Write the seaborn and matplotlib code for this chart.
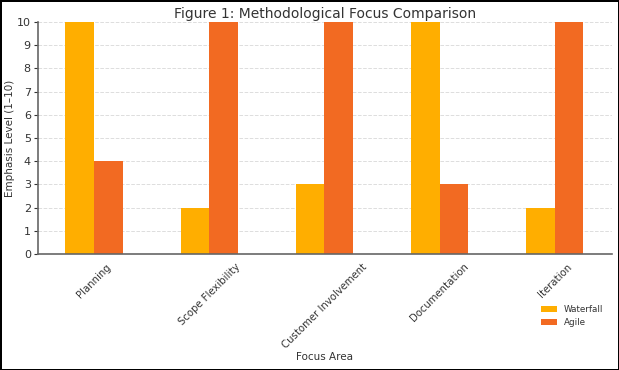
import pandas as pd
import matplotlib
matplotlib.use("Agg")
import matplotlib.pyplot as plt
import seaborn as sns

# Chart data
areas = ["Planning", "Scope Flexibility", "Customer Involvement", "Documentation", "Iteration"]
waterfall = [10, 2, 3, 10, 2]
agile = [4, 10, 10, 3, 10]

df = pd.DataFrame({
    "Focus Area": areas * 2,
    "Emphasis": waterfall + agile,
    "Method": ["Waterfall"] * len(areas) + ["Agile"] * len(areas),
})

sns.set_style("white")
plt.rcParams["font.family"] = ["DejaVu Sans"]
text_col = "#333333"

fig = plt.figure(figsize=(6.19, 3.70), dpi=100)
ax = fig.add_axes([0.061, 0.3135, 0.928, 0.627])

sns.barplot(data=df, x="Focus Area", y="Emphasis", hue="Method",
            palette=["#FFAE00", "#F26A22"], width=0.5, gap=0,
            saturation=1, linewidth=0, ax=ax)

ax.set_ylim(0, 10)
ax.set_xlim(-0.49, 4.5)
ax.set_yticks(range(0, 11))
ax.yaxis.grid(True, linestyle="--", color="#dddddd", linewidth=0.7)
ax.set_axisbelow(True)
for s in ["top", "right"]:
    ax.spines[s].set_visible(False)
for s in ["left", "bottom"]:
    ax.spines[s].set_color("#666666")
    ax.spines[s].set_linewidth(1.2)

ax.tick_params(axis="y", left=True, length=3, pad=2, labelsize=8, colors=text_col)
ax.tick_params(axis="x", bottom=False, pad=2, labelsize=7.3, colors=text_col)
plt.setp(ax.get_xticklabels(), rotation=45, ha="center")

ax.set_title("Figure 1: Methodological Focus Comparison", fontsize=10, color=text_col, pad=3)
ax.set_xlabel("Focus Area", fontsize=7.5, color=text_col, labelpad=1)
ax.set_ylabel("Emphasis Level (1\u201310)", fontsize=7.5, color=text_col, labelpad=1)

ax.legend(loc="center", bbox_to_anchor=(0.93, -0.267), frameon=False,
          fontsize=6.3, labelcolor=text_col, handlelength=1.8, handleheight=0.7)

fig.patch.set_edgecolor("black")
fig.patch.set_linewidth(2)
fig.savefig("out.png", dpi=100, edgecolor=fig.get_edgecolor())
